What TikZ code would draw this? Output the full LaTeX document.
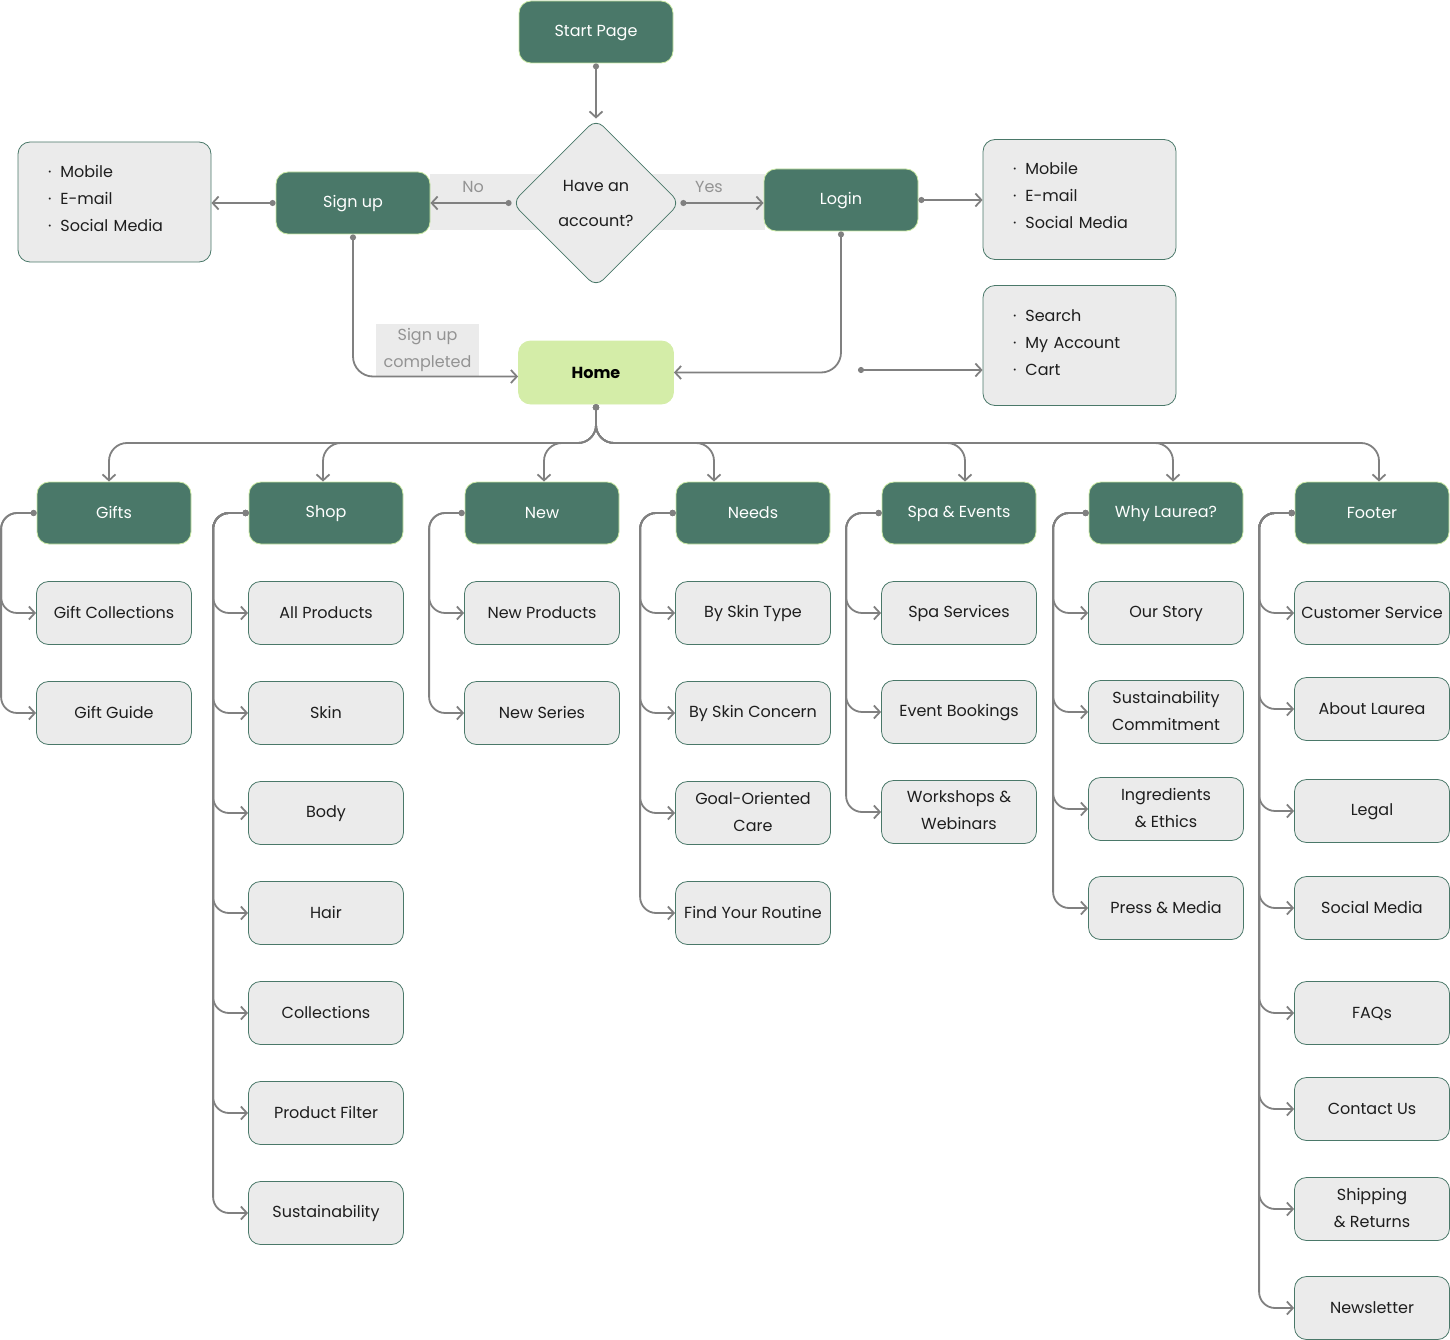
\documentclass[tikz,border=0pt]{standalone}
\usepackage{fontspec}
\setmainfont{Poppins}
\usetikzlibrary{arrows.meta, shapes.geometric, positioning}
\definecolor{pine}{HTML}{4A7869}
\definecolor{lime}{HTML}{C9E8A2}
\definecolor{homegreen}{HTML}{D4EDA8}
\definecolor{paper}{HTML}{EBEBEB}
\definecolor{wire}{HTML}{808080}
\definecolor{ink}{HTML}{1E1E1E}
\newcommand{\bulletitem}{\textperiodcentered\hspace{9pt}}
\newcommand{\boxstrut}{\rule[-3pt]{0pt}{17pt}}
\tikzset{
  boxtext/.style={font=\fontsize{16}{27}\selectfont, execute at begin node=\boxstrut, execute at end node=\boxstrut},
  darkbox/.style={boxtext, draw=lime, fill=pine, text=white, rounded corners=12pt, line width=0.8pt,
    minimum width=154pt, minimum height=62pt, inner ysep=0pt},
  lightbox/.style={boxtext, draw=pine, fill=paper, text=ink, rounded corners=12pt, line width=0.8pt,
    minimum width=155pt, minimum height=63pt, align=center, inner xsep=2pt, inner ysep=0pt},
  listbox/.style={draw=pine, fill=paper, text=ink, rounded corners=12pt, line width=0.8pt,
    font=\fontsize{16}{27}\selectfont, minimum height=120pt, text width=133pt, inner xsep=30pt, inner ysep=0pt,
    align=left, execute at begin node=\rule{0pt}{18pt}, execute at end node=\rule[-13pt]{0pt}{0pt}},
  conn/.style={draw=wire, line width=1.8pt, {Circle[length=6pt]}-{Straight Barb[length=6pt,width=13pt]}},
  greylabel/.style={boxtext, text=wire!85},
}
\begin{document}
\begin{tikzpicture}[x=1pt, y=-1pt]
\useasboundingbox (0,0) rectangle (1450,1340);
% band behind the question
\fill[paper] (430,174) rectangle (765,230);
\node[darkbox] (start) at (596,32) {Start Page};
\node[diamond, aspect=1, draw=pine, fill=paper, text=ink, rounded corners=10pt, line width=0.8pt,
  minimum size=168pt, inner sep=0pt, align=center, font=\fontsize{16}{35}\selectfont] (ask) at (596,203) {Have an\\account?};
\node[darkbox] (signup) at (353,203) {Sign up};
\node[darkbox] (login) at (841,200) {Login};
\node[listbox] (signupopts) at (114.5,202) {\bulletitem Mobile\\\bulletitem E-mail\\\bulletitem Social Media};
\node[listbox] (loginopts) at (1079.5,199.5) {\bulletitem Mobile\\\bulletitem E-mail\\\bulletitem Social Media};
\node[listbox] (tools) at (1079.5,345.5) {\bulletitem Search\\\bulletitem My Account\\\bulletitem Cart};
\node[lightbox, draw=homegreen, fill=homegreen, text=black, font=\fontsize{16}{27}\selectfont\bfseries] (home) at (596,372.5) {Home};
\node[greylabel] (no) at (473,187) {No};
\node[greylabel] (yes) at (709,187) {Yes};
\node[greylabel, fill=paper, minimum width=103pt, minimum height=52pt, inner sep=0pt, align=center] (done) at (427.5,350) {Sign up\\completed};

% login flow
\draw[conn] (start) -- (ask);
\draw[conn] (ask.west) -- (signup.east);
\draw[conn] (ask.east) -- (ask.east -| login.west);
\draw[conn] (signup.west) -- (signup.west -| signupopts.east);
\draw[conn] (login.east) -- (login.east -| loginopts.west);
\draw[conn, rounded corners=20pt] (signup.south) |- ([yshift=-4pt]home.west);
\draw[conn, rounded corners=20pt] (login.south) |- (home.east);
\coordinate (toolsdot) at (858,370);
\draw[conn] (toolsdot) -- (toolsdot -| tools.west);

% main menu
\coordinate (bus) at (596,443);
\foreach \name/\txt/\x/\dx in {gifts/Gifts/114/-5, shop/Shop/326/-3, new/New/542/2, needs/Needs/753/-39,
    spa/Spa \& Events/959/6, why/Why Laurea?/1166/7, footer/Footer/1372/7}{
  \node[darkbox] (\name) at (\x,513) {\txt};
  \coordinate (\name in) at ([xshift=\dx pt]\name.north);
  \draw[conn, rounded corners=18pt] (home.south) |- (\name in |- bus) -- (\name in);
}

% sub pages
\foreach \parent/\name/\dy/\txt in {
    gifts/giftcoll/100/Gift Collections, gifts/giftguide/200/Gift Guide,
    shop/allprod/100/All Products, shop/skin/200/Skin, shop/body/300/Body, shop/hair/400/Hair,
    shop/collections/500/Collections, shop/filter/600/Product Filter, shop/sustain/700/Sustainability,
    new/newprod/100/New Products, new/newseries/200/New Series,
    needs/skintype/100/By Skin Type, needs/concern/200/By Skin Concern,
    needs/goal/300/Goal-Oriented\\Care, needs/routine/400/Find Your Routine,
    spa/spaserv/100/Spa Services, spa/bookings/199/Event Bookings, spa/workshops/299/Workshops \&\\Webinars,
    why/story/100/Our Story, why/commit/199/Sustainability\\Commitment,
    why/ingred/296/Ingredients\\\& Ethics, why/press/395/Press \& Media,
    footer/service/100/Customer Service, footer/about/196/About Laurea, footer/legal/298/Legal,
    footer/social/395/Social Media, footer/faqs/500/FAQs, footer/contact/596/Contact Us,
    footer/shipping/696/Shipping\\\& Returns, footer/newsletter/795/Newsletter}{
  \node[lightbox] (\name) at ([yshift=-\dy pt]\parent) {\txt};
  \draw[conn, rounded corners=16pt] (\parent.west) -| ([xshift=-35pt]\name.west) -- (\name.west);
}
\end{tikzpicture}
\end{document}
